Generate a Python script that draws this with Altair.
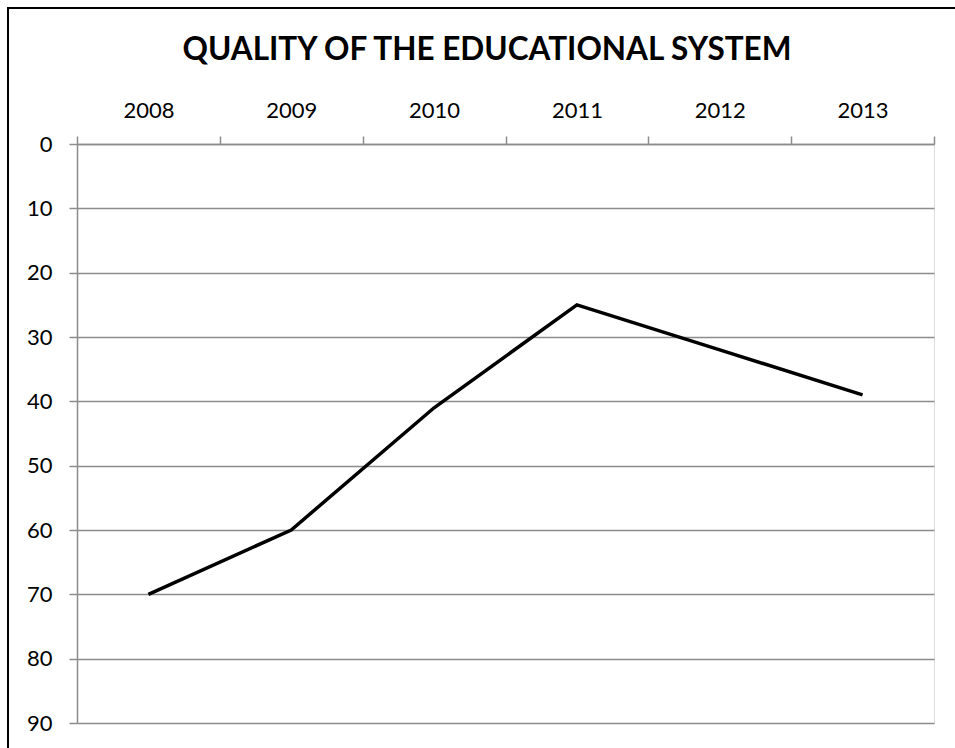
import altair as alt
import pandas as pd

years = ["2008", "2009", "2010", "2011", "2012", "2013"]
values = [70, 60, 41, 25, 32, 39]
y_ticks = [0, 10, 20, 30, 40, 50, 60, 70, 80, 90]
title_text = ["QUALITY OF THE EDUCATIONAL SYSTEM"]

df = pd.DataFrame({"year": years, "value": values})

FONT = "Lato"
GRID = "#8c8c8c"

line = alt.Chart(df).mark_line(color="black", strokeWidth=3.5).encode(
    x=alt.X(
        "year:N",
        sort=years,
        scale=alt.Scale(paddingInner=0, paddingOuter=0),
        axis=alt.Axis(
            orient="top",
            title=None,
            labelAngle=0,
            tickBand="extent",
            tickSize=8,
            tickColor=GRID,
            tickWidth=1.5,
            domainColor=GRID,
            domainWidth=1.5,
            labelFont=FONT,
            labelFontSize=22,
            labelColor="black",
            labelPadding=14,
            grid=False,
        ),
    ),
    y=alt.Y(
        "value:Q",
        scale=alt.Scale(domain=[0, 90], reverse=True, nice=False, zero=False),
        axis=alt.Axis(
            title=None,
            values=y_ticks,
            tickSize=8,
            tickColor=GRID,
            tickWidth=1.5,
            domainColor=GRID,
            domainWidth=1.5,
            gridColor=GRID,
            gridWidth=1.5,
            labelFont=FONT,
            labelFontSize=22,
            labelColor="black",
            labelPadding=17,
        ),
    ),
)

title = alt.Chart(pd.DataFrame({"t": title_text})).mark_text(
    font=FONT,
    fontSize=31.5,
    fontWeight="bold",
    color="black",
    align="center",
    baseline="alphabetic",
).encode(
    text="t:N",
    x=alt.value(410),
    y=alt.value(-84),
)

frame_df = pd.DataFrame({"k": [0]})
frame_top = alt.Chart(frame_df).mark_rule(color="black", strokeWidth=2).encode(
    x=alt.value(-70),
    x2=alt.value(878),
    y=alt.value(-136),
)
frame_left = alt.Chart(frame_df).mark_rule(color="black", strokeWidth=2).encode(
    x=alt.value(-69),
    y=alt.value(-137),
    y2=alt.value(604),
)

chart = (
    alt.layer(line, title, frame_top, frame_left)
    .properties(
        width=857,
        height=579,
        autosize=alt.AutoSizeParams(type="none"),
        padding={"left": 77, "top": 144, "right": 21, "bottom": 25},
    )
    .configure_view(strokeWidth=0, stroke="transparent")
    .configure(background="white")
)

chart.save("out.html", embed_options={"renderer": "svg", "actions": False})
